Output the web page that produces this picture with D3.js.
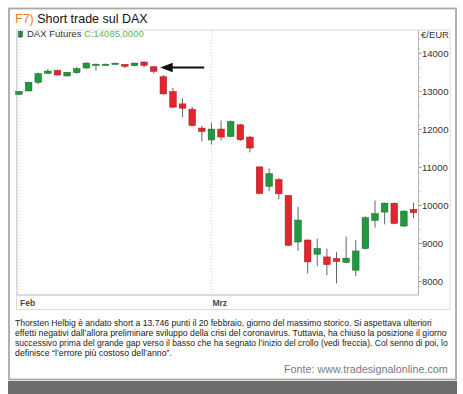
<!DOCTYPE html>
<html>
<head>
<meta charset="utf-8">
<script src="https://cdn.jsdelivr.net/npm/d3@7/dist/d3.min.js"></script>
<style>
html,body{margin:0;padding:0;background:#fff;}
svg{display:block;}
</style>
</head>
<body>
<svg id="c" width="463" height="394"></svg>
<script>
// ---- Data ----
const dates = ["02-03","02-04","02-05","02-06","02-07","02-10","02-11","02-12","02-13","02-14",
  "02-17","02-18","02-19","02-20","02-21","02-24","02-25","02-26","02-27","02-28",
  "03-02","03-03","03-04","03-05","03-06","03-09","03-10","03-11","03-12","03-13",
  "03-16","03-17","03-18","03-19","03-20","03-23","03-24","03-25","03-26","03-27","03-30","03-31"];
const open  = [12911,12997,13225,13460,13539,13390,13476,13600,13690,13690,
  13715,13696,13660,13757,13633,13372,12979,12657,12518,12021,
  11707,11995,11801,12107,11785,11000,10492,10667,10248,9026,
  9078,8704,8633,8591,8487,8285,8853,9594,9811,10047,9445,9882];
const high  = [13000,13240,13480,13570,13560,13500,13630,13750,13720,13722,
  13750,13700,13740,13775,13650,13420,13080,12800,12580,12080,
  12160,12220,12220,12140,11820,11010,10960,10710,10260,9953,
  9090,9120,8850,8760,9167,9078,9700,10118,10060,10060,9860,10060];
const low   = [12890,12990,13180,13440,13400,13380,13450,13580,13528,13670,
  13700,13600,13650,13617,13450,12900,12545,12309,12070,11670,
  11590,11690,11780,11680,11382,10290,10360,10150,8930,8790,
  8200,8390,8150,7936,8470,8130,8830,9402,9489,9490,9420,9650];
const close = [12980,13225,13450,13520,13416,13487,13581,13730,13700,13700,
  13725,13644,13730,13670,13513,12919,12571,12544,12089,11932,
  11995,11785,12194,11714,11497,10301,10822,10293,8939,9602,
  8502,8853,8434,8513,8600,8790,9665,9770,10047,9515,9838,9796];
const yTicks = [8000,9000,10000,11000,12000,13000,14000];
const monthTicks = [{i:0,label:"Feb"},{i:20,label:"Mrz"}];
const arrowAt = 14; // candle the arrow points to
const captionLines = [
  "Thorsten Helbig è andato short a 13.746 punti il 20 febbraio, giorno del massimo storico. Si aspettava ulteriori",
  "effetti negativi dall’allora preliminare sviluppo della crisi del coronavirus. Tuttavia, ha chiuso la posizione il giorno",
  "successivo prima del grande gap verso il basso che ha segnato l’inizio del crollo (vedi freccia). Col senno di poi, lo",
  "definisce “l’errore più costoso dell’anno”."
];
const captionWidths = [417, 432, 433, 157];

// ---- Drawing ----
const svg = d3.select("#c");
const FONT = "'Liberation Sans', Arial, Helvetica, sans-serif";
const GREEN = "#1f9a3e", RED = "#e3262b", WICK = "#555";

const candles = dates.map((d,i)=>({d,i,o:open[i],h:high[i],l:low[i],c:close[i]}));

// card
svg.append("rect").attr("x",0).attr("y",0).attr("width",463).attr("height",394).attr("fill","#fff");
svg.append("rect").attr("x",8).attr("y",381).attr("width",449).attr("height",13).attr("fill","#6d6d6d");
svg.append("rect").attr("x",9).attr("y",8.5).attr("width",447).attr("height",371)
  .attr("fill","#fff").attr("stroke","#a9a9a9").attr("stroke-width",1.8);

// title
const title = svg.append("text").attr("x",15).attr("y",23.3)
  .attr("font-family",FONT).attr("font-size",12.5);
title.append("tspan").attr("fill","#f07c1c").text("F7) ");
title.append("tspan").attr("fill","#111").text("Short trade sul DAX");

// panel
svg.append("rect").attr("x",16.5).attr("y",30).attr("width",433.5).attr("height",279.5)
  .attr("fill","#fff").attr("stroke","#dcdcdc").attr("stroke-width",1);

const plotL = 17, plotR = 418.5, plotT = 30, plotB = 295;
const x = d3.scaleLinear().domain([0, dates.length-1]).range([19, 413.5]);
const y = d3.scaleLinear().domain([8000,14000]).range([281, 52.8]);

// gridlines (month)
svg.append("g").selectAll("line").data(monthTicks).join("line")
  .attr("x1",d=>x(d.i)).attr("x2",d=>x(d.i))
  .attr("y1",plotT+1).attr("y2",plotB)
  .attr("stroke","#c8c8c8").attr("stroke-width",0.8).attr("stroke-dasharray","1,2");

// bottom axis line
svg.append("line").attr("x1",plotL).attr("x2",plotR).attr("y1",plotB).attr("y2",plotB)
  .attr("stroke","#b5b5b5").attr("stroke-width",1);
svg.append("line").attr("x1",plotL).attr("x2",plotL).attr("y1",plotT).attr("y2",plotB)
  .attr("stroke","#cfcfcf").attr("stroke-width",1);

// x labels
svg.append("g").selectAll("text").data(monthTicks).join("text")
  .attr("x",d=>x(d.i)+1).attr("y",305.5)
  .attr("font-family",FONT).attr("font-size",8.5).attr("font-weight","bold")
  .attr("fill","#4a4a4a").text(d=>d.label);

// y axis (right)
const yAxis = d3.axisRight(y).tickValues(yTicks).tickSize(3).tickFormat(d3.format("d"));
const gy = svg.append("g").attr("transform",`translate(${plotR},0)`).call(yAxis);
gy.select(".domain").remove();
gy.selectAll(".tick line").attr("stroke","#888");
gy.selectAll(".tick text").attr("font-family",FONT).attr("font-size",9.5).attr("fill","#333")
  .attr("x",3.5).attr("dy","0.34em");
svg.append("line").attr("x1",plotR).attr("x2",plotR).attr("y1",plotT).attr("y2",plotB)
  .attr("stroke","#b5b5b5").attr("stroke-width",1);
// minor ticks
const minor = d3.range(7600,14600,250).filter(v=>v%1000!==0 && y(v)>plotT+8 && y(v)<plotB-2);
svg.append("g").selectAll("line").data(minor).join("line")
  .attr("x1",plotR).attr("x2",plotR+1.5).attr("y1",d=>y(d)).attr("y2",d=>y(d))
  .attr("stroke","#aaa").attr("stroke-width",0.8);
svg.append("text").attr("x",421).attr("y",37.5).attr("font-family",FONT).attr("font-size",9.5)
  .attr("fill","#333").text("€/EUR");

// legend
svg.append("rect").attr("x",18.5).attr("y",31.5).attr("width",4).attr("height",5.5)
  .attr("fill",GREEN).attr("stroke","#2b5a33").attr("stroke-width",0.6);
svg.append("line").attr("x1",20.5).attr("x2",20.5).attr("y1",30.5).attr("y2",38).attr("stroke","#2b5a33").attr("stroke-width",0.6);
const leg = svg.append("text").attr("x",27).attr("y",37.2).attr("font-family",FONT).attr("font-size",9.5);
leg.append("tspan").attr("fill","#333").text("DAX Futures ");
leg.append("tspan").attr("fill","#5cb85c").text("C:14085,0000");

// candles
const bw = 6.6;
const gc = svg.append("g").selectAll("g").data(candles).join("g");
gc.append("line")
  .attr("x1",d=>x(d.i)).attr("x2",d=>x(d.i))
  .attr("y1",d=>y(d.h)).attr("y2",d=>y(d.l))
  .attr("stroke",WICK).attr("stroke-width",0.9);
gc.append("rect")
  .attr("x",d=>x(d.i)-bw/2).attr("width",bw)
  .attr("y",d=>y(Math.max(d.o,d.c)))
  .attr("height",d=>Math.max(1.2, Math.abs(y(d.o)-y(d.c))))
  .attr("fill",d=>d.c>=d.o?GREEN:RED)
  .attr("stroke",d=>d.c>=d.o?"#1b5e2b":"#9c1b1e").attr("stroke-width",0.5);

// arrow
const ax = x(arrowAt) + 6.5, ay = y(open[arrowAt]) + 0.8;
svg.append("line").attr("x1",ax+10).attr("x2",ax+44).attr("y1",ay).attr("y2",ay)
  .attr("stroke","#111").attr("stroke-width",2);
svg.append("path")
  .attr("d",`M${ax},${ay} L${ax+12.5},${ay-4.8} L${ax+12.5},${ay+4.8} Z`)
  .attr("fill","#111");

// separator
svg.append("line").attr("x1",16.5).attr("x2",450).attr("y1",309.5).attr("y2",309.5)
  .attr("stroke","#dcdcdc").attr("stroke-width",1);

// caption: condensed look via horizontal scale fitted to measured width
svg.append("g").selectAll("text").data(captionLines).join("text")
  .attr("font-family","'Liberation Sans Narrow', 'Liberation Sans', Arial, sans-serif")
  .attr("font-size",9.6).attr("fill","#222")
  .text(d=>d)
  .each(function(d,i){
    const w = this.getComputedTextLength();
    const s = captionWidths[i] / w;
    d3.select(this).attr("transform",`translate(15,${326+i*10}) scale(${s},1)`);
  });

const fonte = svg.append("text")
  .attr("font-family",FONT).attr("font-size",10).attr("fill","#7a7a7a")
  .text("Fonte: www.tradesignalonline.com");
{
  const w = fonte.node().getComputedTextLength();
  const s = 164 / w;
  fonte.attr("transform",`translate(${448-164},373) scale(${s},1)`);
}
</script>
</body>
</html>
